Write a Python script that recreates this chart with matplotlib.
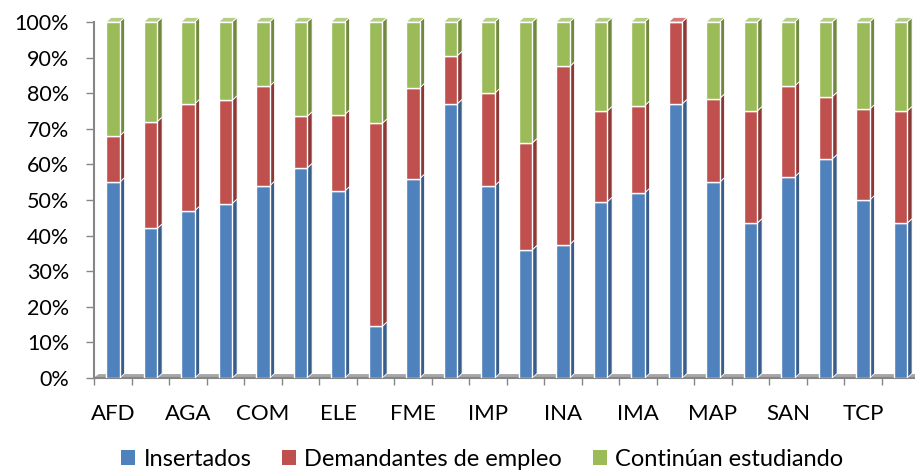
import numpy as np
import matplotlib.pyplot as plt
from matplotlib.patches import Polygon, Patch
from matplotlib.ticker import PercentFormatter

categories = ['AFD', 'ADG', 'AGA', 'ARG', 'COM', 'EOC', 'ELE', 'ENA', 'FME', 'HOT', 'IMP',
              'IMS', 'INA', 'IFC', 'IMA', 'MAM', 'MAP', 'QUI', 'SAN', 'SSC', 'TCP', 'TMV']
insertados = [55, 42, 47, 49, 54, 59, 52.5, 14.5, 56, 77, 54,
              36, 37.5, 49.5, 52, 77, 55, 43.5, 56.5, 61.5, 50, 43.5]
demandantes = [13, 30, 30, 29, 28, 14.5, 21.5, 57, 25.5, 13.5, 26,
               30, 50, 25.5, 24.5, 23, 23.5, 31.5, 25.5, 17.5, 25.5, 31.5]
continuan = [32, 28, 23, 22, 18, 26.5, 26, 28.5, 18.5, 9.5, 20,
             34, 12.5, 25, 23.5, 0, 21.5, 25, 18, 21, 24.5, 25]
series_names = ['Insertados', 'Demandantes de empleo', 'Continúan estudiando']

front = ['#4F81BD', '#C0504D', '#9BBB59']
side = ['#385D8A', '#8C3836', '#71893F']
topc = ['#7EA1CE', '#D27D7B', '#B5CE85']

fig = plt.figure(figsize=(9.15, 4.7), dpi=100)
ax = fig.add_axes([0.103, 0.1957, 0.9016, 0.7575])

x = np.arange(len(categories))
w = 0.36
dx, dy = 0.13, 1.3

# floor of the 3d box
ax.fill([-0.5, 21.5, 21.5 + dx, -0.5 + dx], [0, 0, dy * 0.7, dy * 0.7], color='#A6A6A6',
        zorder=1, clip_on=False)

bottom = np.zeros(len(categories))
data = [np.array(insertados), np.array(demandantes), np.array(continuan)]
totals = data[0] + data[1] + data[2]
for k, vals in enumerate(data):
    ax.bar(x, vals, w, bottom=bottom, color=front[k], edgecolor='white', linewidth=1.0, zorder=3)
    for i in range(len(x)):
        if vals[i] <= 0:
            continue
        r = x[i] + w / 2
        b = bottom[i]
        t = bottom[i] + vals[i]
        ax.add_patch(Polygon([(r, b), (r + dx, b + dy), (r + dx, t + dy), (r, t)],
                             closed=True, facecolor=side[k], edgecolor='white', lw=0.6,
                             zorder=2, clip_on=False))
        if abs(t - totals[i]) < 1e-6:
            l = x[i] - w / 2
            ax.add_patch(Polygon([(l, t), (l + dx, t + dy), (r + dx, t + dy), (r, t)],
                                 closed=True, facecolor=topc[k], edgecolor='white', lw=0.6,
                                 zorder=2, clip_on=False))
    bottom = bottom + vals

ax.set_xlim(-0.5, 21.5)
ax.set_ylim(0, 100)
ax.set_yticks(np.arange(0, 101, 10))
ax.yaxis.set_major_formatter(PercentFormatter(decimals=0))
for s in ['top', 'right']:
    ax.spines[s].set_visible(False)
ax.spines['left'].set_color('#868686')
ax.spines['left'].set_linewidth(1.5)
ax.spines['bottom'].set_color('#868686')
ax.spines['bottom'].set_linewidth(1.5)
ax.tick_params(axis='y', colors='#868686', length=6, width=1, labelcolor='black',
               labelsize=15.5, pad=12)
for lab in ax.get_yticklabels():
    lab.set_family(['Lato', 'DejaVu Sans'])

ax.set_xticks(x[::2])
ax.set_xticklabels(categories[::2], fontsize=16, family=['Lato', 'DejaVu Sans'])
ax.set_xticks(np.arange(-0.5, 22, 1), minor=True)
ax.tick_params(axis='x', which='major', length=0, pad=19)
ax.tick_params(axis='x', which='minor', length=5, width=1, colors='#868686')

handles = [Patch(facecolor=front[k], edgecolor='none') for k in range(3)]
fig.legend(handles, series_names, loc='center', bbox_to_anchor=(0.527, 0.022), ncol=3,
           frameon=False, handlelength=0.6, handleheight=0.6, handletextpad=0.35,
           columnspacing=1.3, prop={'family': 'Lato', 'size': 17})

fig.savefig('out.png', dpi=100)
